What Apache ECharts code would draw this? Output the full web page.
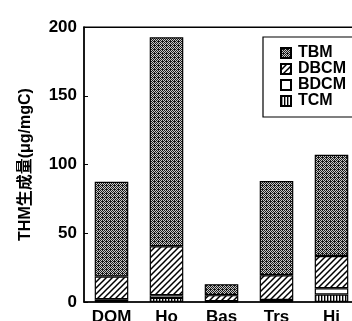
<!DOCTYPE html>
<html><head><meta charset="utf-8">
<script src="https://cdn.jsdelivr.net/npm/echarts@6/dist/echarts.min.js"></script>
<style>html,body{margin:0;padding:0;background:#fff}#c{width:352px;height:321px}</style>
</head><body><div id="c"></div>
<script>
var categories = ['DOM','Ho','Bas','Trs','Hi'];
var TCM  = [0.5, 3, 0, 0.5, 5.5];
var BDCM = [1.5, 2, 0.5, 1, 4.5];
var DBCM = [16.5, 35.5, 4.5, 18, 23.5];
var TBM  = [69, 152, 8, 68.5, 73.5];
var yTicks = [0, 50, 100, 150, 200];

function pat(w, h, draw){
  var c = document.createElement('canvas'); c.width = w; c.height = h;
  var g = c.getContext('2d'); g.fillStyle = '#fff'; g.fillRect(0,0,w,h);
  draw(g); return {image: c, repeat: 'repeat'};
}
var pTBM = pat(4,4,function(g){
  g.fillStyle='#c8c8c8'; g.fillRect(0,0,4,4);
  g.fillStyle='#1a1a1a';
  [[0,0],[2,0],[1,1],[3,1],[0,2],[2,2],[3,3],[1,3],[2,1]].forEach(function(p){g.fillRect(p[0],p[1],1,1);});
});
var pDBCM = pat(6,6,function(g){
  g.strokeStyle='#000'; g.lineWidth=1.5;
  g.beginPath(); g.moveTo(-1,7); g.lineTo(7,-1); g.moveTo(-4,4); g.lineTo(4,-4); g.moveTo(2,10); g.lineTo(10,2); g.stroke();
});
var pBDCM = '#ffffff';
var pTCM = pat(3,3,function(g){ g.fillStyle='#000'; g.fillRect(0,0,1.4,3); });

var font = '"Liberation Sans", Arial, "Noto Sans CJK JP", sans-serif';
function s(name, data, color){
  return {name:name, type:'bar', stack:'a', data:data, barWidth:'61%',
    itemStyle:{color:color, borderColor:'#000', borderWidth:1.2}, animation:false};
}
var chart = echarts.init(document.getElementById('c'), null, {renderer:'canvas'});
chart.setOption({
  animation:false,
  textStyle:{fontFamily:font},
  grid:{left:84, top:27, width:275, height:275, show:true, borderColor:'#000', borderWidth:1.2,
    containLabel:false, outerBoundsMode:'none'},
  legend:{orient:'vertical', left:263, top:37, data:['TBM','DBCM','BDCM','TCM'], icon:'rect',
    itemWidth:10, itemHeight:10, itemGap:0, padding:[8,40,8,17],
    borderColor:'#000', borderWidth:1.2, backgroundColor:'#fff',
    textStyle:{fontSize:16, fontWeight:'bold', lineHeight:14.5, fontFamily:font, color:'#000', padding:[0,0,0,2]}},
  xAxis:[{type:'category', data:categories, position:'bottom',
    axisLine:{lineStyle:{color:'#000', width:1.5}},
    axisTick:{inside:true, length:4, lineStyle:{color:'#000'}},
    axisLabel:{fontSize:17, fontWeight:'bold', color:'#000', margin:7, fontFamily:font}},
   {type:'category', data:categories, position:'top',
    axisLine:{lineStyle:{color:'#000', width:1.2}},
    axisTick:{inside:true, length:4, lineStyle:{color:'#000'}},
    axisLabel:{show:false}}],
  yAxis:{type:'value', min:0, max:200, interval:50,
    name:'THM生成量(μg/mgC)', nameLocation:'middle', nameGap:50,
    nameTextStyle:{fontSize:16, fontWeight:'bold', color:'#000', fontFamily:font},
    axisLine:{show:true, lineStyle:{color:'#000', width:1.5}},
    axisTick:{show:true, inside:true, length:4, lineStyle:{color:'#000'}},
    splitLine:{show:false},
    axisLabel:{fontSize:17, fontWeight:'bold', color:'#000', margin:7, fontFamily:font,
      formatter:function(v){return yTicks.indexOf(v)>=0 ? String(v) : '';}}},
  series:[s('TCM',TCM,pTCM), s('BDCM',BDCM,pBDCM), s('DBCM',DBCM,pDBCM), s('TBM',TBM,pTBM)]
});
</script></body></html>
